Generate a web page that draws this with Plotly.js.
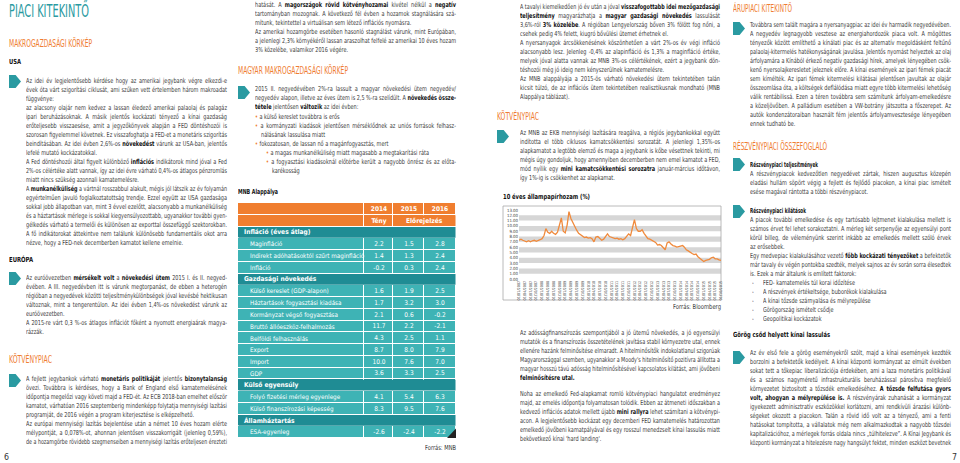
<!DOCTYPE html>
<html><head><meta charset="utf-8">
<script src="https://cdn.plot.ly/plotly-3.0.1.min.js"></script>
<style>
html,body{margin:0;padding:0;background:#fff;width:960px;height:463px;overflow:hidden;}
#chart{position:absolute;left:0;top:0;width:960px;height:463px;z-index:1;}
#txt{position:absolute;left:0;top:0;width:960px;height:463px;pointer-events:none;z-index:3;font-family:'Liberation Sans Narrow','DejaVu Sans Condensed','Arial Narrow',sans-serif;color:#3a3a3a;}
.ln{position:absolute;height:9px;line-height:9px;font-size:6.8px;white-space:nowrap;}
.ln>span{display:inline-block;white-space:pre;transform-origin:0 50%;}
.ln b{color:#111;}
.o{color:#EF7D32;}
.hd{position:absolute;white-space:nowrap;}
.hd>span{display:inline-block;white-space:pre;transform-origin:0 50%;}
.arr{position:absolute;width:12px;height:13px;background:#2A9AA1;clip-path:polygon(0 0,55% 0,100% 50%,55% 100%,0 100%);}
</style></head>
<body>
<div id="chart"></div>
<div id="txt"></div>
<script>
// ---------------- DATA ----------------
const yieldDates = [
"2007-01","2007-02","2007-03","2007-04","2007-05","2007-06","2007-07","2007-08","2007-09","2007-10","2007-11","2007-12",
"2008-01","2008-02","2008-03","2008-04","2008-05","2008-06","2008-07","2008-08","2008-09","2008-10","2008-11","2008-12",
"2009-01","2009-02","2009-03","2009-04","2009-05","2009-06","2009-07","2009-08","2009-09","2009-10","2009-11","2009-12",
"2010-01","2010-02","2010-03","2010-04","2010-05","2010-06","2010-07","2010-08","2010-09","2010-10","2010-11","2010-12",
"2011-01","2011-02","2011-03","2011-04","2011-05","2011-06","2011-07","2011-08","2011-09","2011-10","2011-11","2011-12",
"2012-01","2012-02","2012-03","2012-04","2012-05","2012-06","2012-07","2012-08","2012-09","2012-10","2012-11","2012-12",
"2013-01","2013-02","2013-03","2013-04","2013-05","2013-06","2013-07","2013-08","2013-09","2013-10","2013-11","2013-12",
"2014-01","2014-02","2014-03","2014-04","2014-05","2014-06","2014-07","2014-08","2014-09","2014-10","2014-11","2014-12",
"2015-01","2015-02","2015-03","2015-04","2015-05","2015-06","2015-07","2015-08","2015-09","2015-10"];
const yieldValues = [
7.3,7.5,7.3,7.1,7.0,7.2,7.0,7.2,7.3,7.1,7.2,7.4,
7.6,8.2,9.5,8.8,8.6,9.0,8.6,8.4,8.8,10.2,11.5,9.0,
8.7,10.2,12.7,11.4,10.6,10.0,9.2,8.6,8.3,8.0,7.8,7.9,
7.7,7.8,7.6,7.0,7.9,8.0,7.6,7.3,7.5,7.9,8.5,8.0,
7.9,7.8,7.6,7.7,7.5,7.6,7.4,7.6,8.0,8.5,8.2,10.0,
11.2,9.5,9.0,9.0,9.3,8.6,8.0,7.6,7.5,7.3,7.0,6.9,
6.4,6.5,6.3,5.8,5.5,6.8,7.0,6.6,6.3,6.2,6.0,6.1,
6.2,6.3,6.0,5.5,5.3,5.0,4.8,4.6,4.7,4.2,3.9,3.6,
3.3,3.5,3.6,3.7,4.0,4.1,3.8,3.8,3.6,3.5];

const tableYears = ["2014","2015","2016"];
const tableSubHeader = ["Tény","Előrejelzés"];
const rowLabels = ["Infláció (éves átlag)","Maginfláció","Indirekt adóhatásoktól szűrt maginfláció","Infláció",
 "Gazdasági növekedés","Külső kereslet (GDP-alapon)","Háztartások fogyasztási kiadása","Kormányzat végső fogyasztása",
 "Bruttó állóeszköz-felhalmozás","Belföldi felhasználás","Export","Import","GDP",
 "Külső egyensúly","Folyó fizetési mérleg egyenlege","Külső finanszírozási képesség",
 "Államháztartás","ESA-egyenleg"];
const rowIsSection = [true,false,false,false,true,false,false,false,false,false,false,false,false,true,false,false,true,false];
const val2014 = [null,2.2,1.4,-0.2,null,1.6,1.7,2.1,11.7,4.3,8.7,10.0,3.6,null,4.1,8.3,null,-2.6];
const val2015 = [null,1.5,1.3,0.3,null,1.9,3.2,0.6,2.2,2.5,8.0,7.6,3.3,null,5.4,9.5,null,-2.4];
const val2016 = [null,2.8,2.4,2.4,null,2.5,3.0,-0.2,-2.1,1.1,7.9,7.0,2.5,null,6.3,7.6,null,-2.2];

// ---------------- STYLE ----------------
const FONT = "Liberation Sans Narrow, DejaVu Sans Condensed, Arial Narrow, sans-serif";
const ORANGE = "#F07E2F", TEAL_D = "#1F8C94", TEAL_L = "#3EB3B5", LINE_OR = "#F08A3C";
const W = 960, H = 463;
const px = v => v / W, py = v => (H - v) / H;

// ---------- table as a heatmap on its own axes ----------
const TCOLW = [126, 29, 31, 32];
const colEdges = [0]; TCOLW.forEach(w => colEdges.push(colEdges[colEdges.length - 1] + w));
const TWID = colEdges[colEdges.length - 1];
const NR = rowLabels.length + 2;
const rowEdges = []; for (let i = 0; i <= NR; i++) rowEdges.push(i);
const fmt = v => v === null ? "" : v.toFixed(1);
const zMat = [[0, 0, 0, 0], [0, 0, 0, 0]];
const tMat = [[""].concat(tableYears.map(y => "<b>" + y + "</b>")), ["", "<b>" + tableSubHeader[0] + "</b>", "", ""]];
rowLabels.forEach((l, i) => {
  const c = rowIsSection[i] ? 1 : 2;
  zMat.push([c, c, c, c]);
  tMat.push(["", fmt(val2014[i]), fmt(val2015[i]), fmt(val2016[i])]);
});
const tableTrace = {
  type: "heatmap", x: colEdges, y: rowEdges, z: zMat, text: tMat, texttemplate: "%{text}",
  textfont: {family: FONT, size: 6.5, color: "#ffffff"},
  colorscale: [[0, ORANGE], [0.25, ORANGE], [0.25, TEAL_D], [0.75, TEAL_D], [0.75, TEAL_L], [1, TEAL_L]],
  zmin: 0, zmax: 2, showscale: false, xgap: 1, ygap: 1, hoverinfo: "skip", xaxis: "x2", yaxis: "y2"
};
const gy = 0.5 / 11.75;
const tShapes = [];
const tAnn = [];
rowLabels.forEach((l, i) => {
  const r = i + 2;
  if (rowIsSection[i]) {
    tShapes.push({type: "rect", xref: "x2", yref: "y2", x0: 0.5, x1: TWID - 0.5, y0: r + gy, y1: r + 1 - gy,
      fillcolor: TEAL_D, line: {width: 0}, layer: "above"});
  }
  tAnn.push({xref: "x2", yref: "y2", x: rowIsSection[i] ? 4 : 10, y: r + 0.5, xanchor: "left", yanchor: "middle",
    text: rowIsSection[i] ? "<b>" + l + "</b>" : l, showarrow: false,
    font: {family: FONT, size: rowIsSection[i] ? 6.6 : 6.3, color: "#ffffff"}});
});
// "Előrejelzés" spans the two forecast columns
tShapes.push({type: "rect", xref: "x2", yref: "y2", x0: colEdges[2] + 0.5, x1: TWID - 0.5, y0: 1 + gy, y1: 2 - gy,
  fillcolor: ORANGE, line: {width: 0}, layer: "above"});
tAnn.push({xref: "x2", yref: "y2", x: (colEdges[2] + TWID) / 2, y: 1.5, xanchor: "center", yanchor: "middle",
  text: "<b>" + tableSubHeader[1] + "</b>", showarrow: false, font: {family: FONT, size: 6.6, color: "#ffffff"}});
// page corner mark
tShapes.push({type: "path", xref: "x2", yref: "y2", path: "M " + (TWID - 9) + " " + NR + " L " + TWID + " " + NR + " L " + TWID + " " + (NR - 0.8) + " Z",
  fillcolor: "#222", line: {width: 0}, layer: "above"});

// ---------- line chart ----------
const line = {
  type: "scatter", mode: "lines", x: yieldDates, y: yieldValues,
  line: {color: LINE_OR, width: 1.3}, hoverinfo: "skip", xaxis: "x", yaxis: "y"
};
const shapes = [];
for (let k = 1; k < 13; k += 2) {
  shapes.push({type: "rect", xref: "x domain", yref: "y", x0: 0, x1: 1, y0: k, y1: k + 1,
    fillcolor: "#D6D6D6", line: {width: 0}, layer: "below"});
}
shapes.push({type: "rect", xref: "paper", yref: "paper", x0: px(503), x1: px(721), y0: py(300), y1: py(206),
  line: {color: "#a8a8a8", width: 0.8}, fillcolor: "rgba(0,0,0,0)", layer: "below"});

const layout = {
  width: W, height: H, margin: {l: 0, r: 0, t: 0, b: 0},
  paper_bgcolor: "rgba(0,0,0,0)", plot_bgcolor: "rgba(0,0,0,0)", showlegend: false,
  font: {family: FONT, color: "#333"},
  xaxis: {domain: [px(519), px(721)], type: "date", range: ["2007-01-01", "2015-10-01"],
    tickmode: "linear", tick0: "2007-01-01", dtick: "M3", tickformat: "%d/%m/%Y",
    tickangle: -90, tickfont: {size: 3.8, color: "#444", family: FONT},
    showgrid: false, zeroline: false, showline: false, ticks: "", fixedrange: true},
  yaxis: {domain: [py(279), py(210)], range: [0, 13], tickmode: "linear", tick0: 0, dtick: 1,
    tickformat: ".2f", tickfont: {size: 4.3, color: "#444", family: FONT},
    showgrid: false, zeroline: false, showline: false, ticks: "", fixedrange: true},
  xaxis2: {domain: [px(238), px(238 + TWID)], range: [0, TWID], visible: false, fixedrange: true, anchor: "y2"},
  yaxis2: {domain: [py(203 + 11.75 * NR), py(203)], range: [NR, 0], visible: false, fixedrange: true, anchor: "x2"},
  shapes: shapes.concat(tShapes),
  annotations: tAnn
};
Plotly.newPlot("chart", [tableTrace, line], layout, {staticPlot: true, displayModeBar: false});

// ---------------- TEXT ----------------
const txt = document.getElementById("txt");
const fits = [];
function addLine(x, yc, w, html) {
  let justify = true;
  if (html.endsWith("|")) { justify = false; html = html.slice(0, -1); }
  const d = document.createElement("div");
  d.className = "ln"; d.style.left = x + "px"; d.style.top = (yc - 4.5) + "px"; d.style.width = w + "px";
  const s = document.createElement("span"); s.innerHTML = html; d.appendChild(s); txt.appendChild(d);
  fits.push({s, w, justify, exact: false});
}
function block(x, y, w, lines) { lines.forEach((l, i) => addLine(x, y + 9 * i, w, l)); }
function heading(x, yc, text, size, color, weight, tw) {
  const d = document.createElement("div");
  d.className = "hd"; d.style.left = x + "px"; d.style.top = (yc - size * 0.6) + "px";
  d.style.fontSize = size + "px"; d.style.lineHeight = (size * 1.2) + "px"; d.style.color = color; d.style.fontWeight = weight;
  const s = document.createElement("span"); s.innerHTML = text; d.appendChild(s); txt.appendChild(d);
  fits.push({s, w: tw, justify: false, exact: true});
}
function arrow(x, y) { const d = document.createElement("div"); d.className = "arr"; d.style.left = x + "px"; d.style.top = y + "px"; txt.appendChild(d); }

const TEAL_H = "#2A9AA1", OR_H = "#EF7D32";
// column 1
heading(9, 11, "PIACI KITEKINTŐ", 17, TEAL_H, "normal", 80);
heading(9, 44, "MAKROGAZDASÁGI KÖRKÉP", 10, OR_H, "normal", 83);
heading(9, 62, "USA", 7, "#111", "bold", 12);
arrow(9, 75);
block(26, 81, 201, [
"Az idei év legjelentősebb kérdése hogy az amerikai jegybank végre elkezdi-e",
"évek óta várt szigorítási ciklusát, ami szűken vett értelemben három makroadat",
"függvénye:|",
"az alacsony olajár nem kedvez a lassan éledező amerikai palaolaj és palagáz",
"ipari beruházásoknak. A másik jelentős kockázati tényező a kínai gazdaság",
"erőteljesebb visszaesése, amit a jegyzőkönyvek alapján a FED döntéshozói is",
"szorosan figyelemmel követnek. Ez visszafoghatja a FED-et a monetáris szigorítás",
"beindításában. Az idei évben 2,6%-os <b>növekedést</b> várunk az USA-ban, jelentős",
"lefelé mutató kockázatokkal.|",
"A Fed döntéshozói által figyelt különböző <b>inflációs</b> indikátorok mind jóval a Fed",
"2%-os célértéke alatt vannak, így az idei évre várható 0,4%-os átlagos pénzromlás",
"miatt nincs szükség azonnali kamatemelésre.|",
"A <b>munkanélküliség</b> a vártnál rosszabbul alakult, mégis jól látszik az év folyamán",
"egyértelműen javuló foglalkoztatottság trendje. Ezzel együtt az USA gazdasága",
"sokkal jobb állapotban van, mint 3 évvel ezelőtt, alacsonyabb a munkanélküliség",
"és a háztartások mérlege is sokkal kiegyensúlyozottabb, ugyanakkor további gyen-",
"gélkedés várható a termelői és különösen az exporttal összefüggő szektorokban.",
"A fő indikátorokat áttekintve nem találunk különösebb fundamentális okot arra",
"nézve, hogy a FED-nek decemberben kamatot kellene emelnie.|"]);
heading(9, 260, "EURÓPA", 7, "#111", "bold", 24);
arrow(9, 272);
block(26, 278, 201, [
"Az euróövezetben <b>mérsékelt volt</b> a <b>növekedési ütem</b> 2015 I. és II. negyed-",
"évében. A III. negyedévben itt is várunk megtorpanást, de ebben a heterogén",
"régióban a negyedévek közötti teljesítménykülönbségek jóval kevésbé hektikusan",
"változnak, mint a tengerentúlon. Az idei évben 1,4%-os növekedést várunk az",
"euróövezetben.|",
"A 2015-re várt 0,3 %-os átlagos inflációt főként a nyomott energiaárak magya-",
"rázzák.|"]);
heading(9, 360, "KÖTVÉNYPIAC", 10, OR_H, "normal", 43);
arrow(9, 374);
block(26, 379, 201, [
"A fejlett jegybankok várható <b>monetáris politikáját</b> jelentős <b>bizonytalanság</b>",
"övezi. Továbbra is kérdéses, hogy a Bank of England első kamatemelésének",
"időpontja megelőzi vagy követi majd a FED-ét. Az ECB 2018-ban emelhet először",
"kamatot, várhatóan 2016 szeptemberig mindenképp folytatja mennyiségi lazítási",
"programját, de 2016 végén a program kiterjesztése is elképzelhető.|",
"Az európai mennyiségi lazítás bejelentése után a német 10 éves hozam elérte",
"mélypontját, a 0,078%-ot, ahonnan jelentősen visszakorrigált (jelenleg 0,59%),",
"de a hozamgörbe rövidebb szegmenseiben a mennyiségi lazítás erőteljesen érezteti"]);
heading(4, 458, "6", 8, "#333", "normal", 5);

// column 2
block(255, 5, 201, [
"hatását. A <b>magországok rövid kötvényhozamai</b> kivétel nélkül a <b>negatív</b>",
"tartományban mozognak. A következő fél évben a hozamok stagnálására szá-",
"mítunk, tekintettel a virtuálisan sem létező inflációs nyomásra.|",
"Az amerikai hozamgörbe esetében hasonló stagnálást várunk, mint Európában,",
"a jelenlegi 2,3% környékéről lassan araszolhat felfelé az amerikai 10 éves hozam",
"3% közelébe, valamikor 2016 végére.|"]);
heading(238, 71, "MAGYAR MAKROGAZDASÁGI KÖRKÉP", 10, OR_H, "normal", 110);
arrow(238, 86);
block(255, 89, 201, [
"2015 II. negyedévében 2%-ra lassult a magyar növekedési ütem negyedév/",
"negyedév alapon, illetve az éves ütem is 2,5 %-ra szelídült. A <b>növekedés össze-</b>",
"<b>tétele</b> jelentősen <b>változik</b> az idei évben:|"]);
addLine(255, 117, 201, "<span class='o'>•</span> a külső kereslet továbbra is erős|");
addLine(255, 126, 201, "<span class='o'>•</span> a kormányzati kiadások jelentősen mérséklődnek az uniós források felhasz-");
addLine(261, 135, 195, "nálásának lassulása miatt|");
addLine(255, 144, 201, "<span class='o'>•</span> fokozatosan, de lassan nő a magánfogyasztás, mert|");
addLine(266, 153, 190, "<span class='o'>•</span> a magas munkanélküliség miatt magasabb a megtakarítási ráta|");
addLine(266, 162, 190, "<span class='o'>•</span> a fogyasztási kiadásoknál előtérbe került a nagyobb önrész és az előta-");
addLine(272, 171, 184, "karékosság|");
heading(238, 192, "MNB Alappálya", 7, "#111", "bold", 40);
heading(425, 448, "Forrás: MNB", 6.8, "#333", "normal", 31);

// column 3
block(520, 7, 200, [
"A tavalyi kiemelkedően jó év után a jóval <b>visszafogottabb idei mezőgazdasági</b>",
"<b>teljesítmény</b> magyarázhatja a <b>magyar gazdasági növekedés</b> lassulását",
"3,6%-ról <b>3% közelébe</b>. A régióban Lengyelország bőven 3% fölött fog nőni, a",
"csehek pedig 4% felett, kiugró bővülési ütemet érhetnek el.|",
"A nyersanyagok árcsökkenésének köszönhetően a várt 2%-os év végi infláció",
"alacsonyabb lesz. Jelenleg -0,4% az alapinfláció és 1,3% a maginfláció értéke,",
"melyek jóval alatta vannak az MNB 3%-os célértékének, ezért a jegybank dön-",
"téshozói még jó ideig nem kényszerülnek kamatemelésre.|",
"Az MNB alappályája a 2015-ös várható növekedési ütem tekintetében talán",
"kicsit túlzó, de az inflációs ütem tekintetében realisztikusnak mondható (MNB",
"Alappálya táblázat).|"]);
heading(497, 117, "KÖTVÉNYPIAC", 10, OR_H, "normal", 42);
arrow(497, 130);
block(520, 133, 200, [
"Az MNB az EKB mennyiségi lazítására reagálva, a régiós jegybankokkal együtt",
"indította el több ciklusos kamatcsökkentési sorozatát. A jelenlegi 1,35%-os",
"alapkamatot a legtöbb elemző és maga a jegybank is kőbe vésettnek tekinti, mi",
"mégis úgy gondoljuk, hogy amennyiben decemberben nem emel kamatot a FED,",
"mód nyílik egy <b>mini kamatcsökkentési sorozatra</b> január-március időtávon,",
"így 1%-ig is csökkenhet az alapkamat.|"]);
heading(503, 197, "10 éves állampapírhozam (%)", 7, "#111", "bold", 87);
heading(673, 307, "Forrás: Bloomberg", 6.8, "#333", "normal", 48);
block(520, 333, 200, [
"Az adósságfinanszírozás szempontjából a jó ütemű növekedés, a jó egyensúlyi",
"mutatók és a finanszírozás összetételének javítása stabil környezetre utal, ennek",
"ellenére hazánk felminősítése elmaradt. A hitelminősítők indokolatlanul szigorúak",
"Magyarországgal szemben, ugyanakkor a Moody's hitelminősítő pozitívra állította a",
"magyar hosszú távú adósság hitelminősítésével kapcsolatos kilátást, ami jövőbeni",
"<b>felminősítésre utal.</b>|"]);
block(520, 394, 200, [
"Noha az emelkedő Fed-alapkamat romló kötvénypiaci hangulatot eredményez",
"majd, az emelés időpontja folyamatosan tolódik. Ebben az átmeneti időszakban a",
"kedvező inflációs adatok mellett újabb <b>mini rallyra</b> lehet számítani a kötvénypi-",
"acon. A legjelentősebb kockázat egy decemberi FED kamatemelés határozottan",
"emelkedő jövőbeni kamatpályával és egy rosszul menedzselt kínai lassulás miatt",
"bekövetkező kínai 'hard landing'.|"]);

// column 4
heading(733, 9, "ÁRUPIACI KITEKINTŐ", 10, OR_H, "normal", 59);
arrow(733, 22);
block(750, 25, 201, [
"Továbbra sem talált magára a nyersanyagpiac az idei év harmadik negyedévében.",
"A negyedév legnagyobb vesztese az energiahordozók piaca volt. A mögöttes",
"tényezők között említhető a kínálati piac és az alternatív megoldásként feltűnő",
"palaolaj-kitermelés hatékonyságának javulása. Jelentős nyomást helyeztek az olaj",
"árfolyamára a Kínából érkező negatív gazdasági hírek, amelyek lényegében csök-",
"kenő nyersolajkeresletet jeleznek előre. A kínai események az ipari fémek piacát",
"sem kímélték. Az ipari fémek kitermelési kilátásai jelentősen javultak az olajár",
"összeomlása óta, a költségek deflálódása miatt egyre több kitermelési lehetőség",
"válik rentábilissá. Ezen a téren továbbra sem számítunk árfolyam-emelkedésre",
"a közeljövőben. A palládium esetében a VW-botrány játszotta a főszerepet. Az",
"autók kondenzátoraiban használt fém jelentős árfolyamvesztesége lényegében",
"ennek tudható be.|"]);
heading(733, 147, "RÉSZVÉNYPIACI ÖSSZEFOGLALÓ", 10, OR_H, "normal", 94);
arrow(733, 158);
heading(750, 165, "Részvénypiaci teljesítmények", 7, "#111", "bold", 68);
block(750, 174, 201, [
"A részvénypiacok kedvezőtlen negyedévet zártak, hiszen augusztus közepén",
"eladási hullám söpört végig a fejlett és fejlődő piacokon, a kínai piac ismételt",
"esése magával rántotta a többi részvénypiacot.|"]);
arrow(733, 205);
heading(750, 211, "Részvénypiaci kilátások", 7, "#111", "bold", 56);
block(750, 220, 201, [
"A piacok további emelkedése és egy tartósabb lejtmenet kialakulása mellett is",
"számos érvet fel lehet sorakoztatni. A mérleg két serpenyője az egyensúlyi pont",
"körül billeg, de véleményünk szerint inkább az emelkedés mellett szóló érvek",
"az erősebbek.|",
"Egy medvepiac kialakulásához vezető <b>főbb kockázati tényezőket</b> a befektetők",
"már tavaly év végén pontokba szedték, melyek sajnos az év során sorra élesedtek",
"is. Ezek a már általunk is említett faktorok:|"]);
["FED- kamatemelés túl korai időzítése", "A részvények értékeltsége, buborékok kialakulása",
 "A kínai tőzsde szárnyalása és mélyrepülése", "Görögország ismételt csődje", "Geopolitikai kockázatok"]
 .forEach((t, i) => { addLine(752, 283 + 9 * i, 10, "-|"); addLine(763, 283 + 9 * i, 188, t + "|"); });
heading(733, 335, "Görög csőd helyett kínai lassulás", 7, "#111", "bold", 97);
arrow(733, 351);
block(750, 353, 201, [
"Az év első fele a görög eseményekről szólt, majd a kínai események kezdték",
"borzolni a befektetők kedélyeit. A kínai központi kormányzat az elmúlt években",
"sokat tett a tőkepiac liberalizációja érdekében, ami a laza monetáris politikával",
"és a számos nagyméretű infrastrukturális beruházással párosítva megfelelő",
"környezetet biztosított a tőzsdék emelkedéséhez. <b>A tőzsde felfutása gyors</b>",
"<b>volt, ahogyan a mélyrepülése is.</b> A részvényárak zuhanását a kormányzat",
"igyekezett adminisztratív eszközökkel korlátozni, ami rendkívüli árazási különb-",
"ségeket okozott a piacokon. Talán a rövid idő volt az a tényező, ami a fenti",
"hatásokat tompította, a vállalatok még nem alkalmazkodtak a nagyobb tőzsdei",
"kapitalizációhoz, a mérlegek forrás oldala nincs „túlhitelezve”. A Kínai Jegybank és",
"központi kormányzat a hitelezésre nagy hangsúlyt fektet, minden eszközt bevetnek"]);
heading(952, 458, "7", 8, "#333", "normal", 5);

function doFit() {
  fits.forEach(f => { f.nat = f.s.getBoundingClientRect().width; });
  const ratios = fits.filter(f => !f.exact && f.justify && f.nat > 0).map(f => f.w / f.nat).sort((a, b) => a - b);
  let k = ratios.length ? ratios[Math.floor(ratios.length * 0.3)] : 1;
  k = Math.min(1, k);
  fits.forEach(f => {
    const nat = f.nat;
    if (!nat) return;
    if (f.exact) { f.s.style.transform = "scaleX(" + (f.w / nat) + ")"; return; }
    if (nat * k > f.w) { f.s.style.transform = "scaleX(" + (f.w / nat) + ")"; return; }
    f.s.style.transform = "scaleX(" + k + ")";
    if (f.justify) {
      const n = (f.s.textContent.match(/ /g) || []).length;
      if (n > 0) f.s.style.wordSpacing = ((f.w / k - nat) / n) + "px";
    }
  });
}
if (document.fonts && document.fonts.ready) document.fonts.ready.then(doFit); else doFit();
</script>
</body></html>
